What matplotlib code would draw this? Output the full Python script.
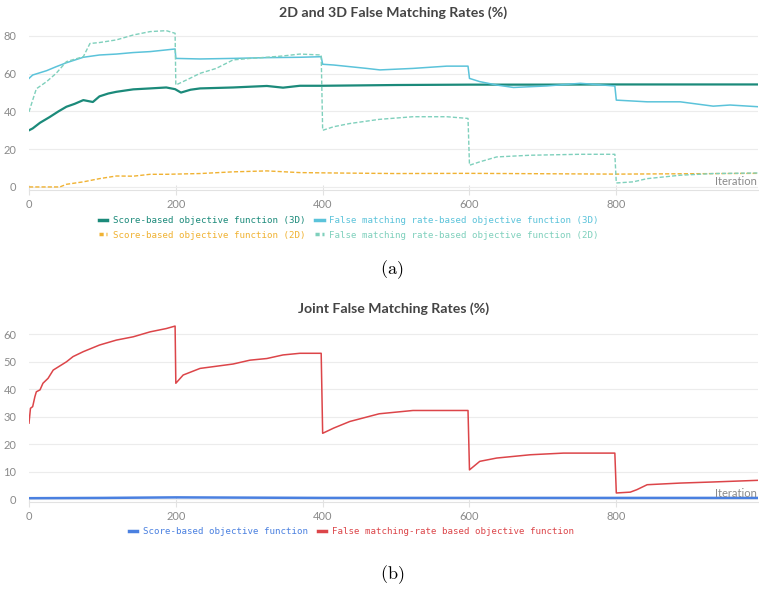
import matplotlib
matplotlib.use("Agg")
import matplotlib.pyplot as plt

plt.rcParams['font.family'] = ['Lato', 'DejaVu Sans']
plt.rcParams['mathtext.fontset'] = 'cm'

# ---- panel (a): 2D and 3D false matching rates ----
score3d_it = [0, 5, 15, 28, 40, 51, 62, 74, 87, 96, 108, 119, 142, 165, 187, 199, 207, 220, 233, 278, 324, 346, 369, 400, 500, 600, 700, 800, 900, 993]
score3d_val = [30, 31, 34, 37, 40, 42.5, 44, 46, 45, 48, 49.5, 50.4, 51.7, 52.2, 52.7, 51.8, 50, 51.5, 52.2, 52.7, 53.5, 52.6, 53.6, 53.6, 54, 54.2, 54.2, 54.3, 54.3, 54.3]

fmr3d_it = [0, 5, 24, 37, 51, 74, 96, 119, 142, 165, 187, 199, 200, 233, 278, 324, 369, 398, 400, 415, 460, 478, 523, 569, 598, 600, 614, 637, 660, 705, 751, 798, 800, 842, 887, 932, 955, 993]
fmr3d_val = [57.5, 59.3, 61.6, 63.7, 65.8, 68.7, 69.9, 70.4, 71.2, 71.7, 72.6, 73.1, 68.1, 67.8, 68.1, 68.5, 68.7, 69, 65, 64.6, 62.8, 62, 62.8, 64, 64, 57.5, 55.8, 54, 52.7, 53.5, 54.9, 53.5, 46, 45.1, 45.1, 42.8, 43.4, 42.5]

score2d_it = [0, 42, 51, 74, 96, 119, 142, 165, 187, 233, 278, 324, 369, 415, 500, 600, 700, 800, 900, 993]
score2d_val = [0, 0, 1.4, 2.7, 4.4, 5.8, 5.7, 6.7, 6.7, 7.1, 8, 8.5, 7.6, 7.4, 7.1, 7.2, 7, 6.8, 7, 7.2]

fmr2d_it = [0, 5, 10, 24, 37, 51, 74, 83, 96, 119, 142, 165, 187, 199, 200, 219, 233, 255, 278, 301, 324, 346, 369, 398, 400, 415, 437, 477, 523, 569, 598, 600, 614, 637, 683, 751, 798, 800, 823, 842, 887, 932, 993]
fmr2d_val = [39.8, 46, 52, 55.8, 60.2, 66.4, 69, 76, 76.5, 77.9, 80.5, 82.3, 82.8, 81.4, 54, 57.5, 60.2, 62.8, 67.3, 68.1, 68.7, 69.4, 70.4, 69.9, 30, 31.9, 33.6, 35.8, 37.2, 37.2, 36.3, 11.5, 13.3, 15.9, 16.8, 17.3, 17.3, 2.1, 2.7, 4.4, 6.2, 7.1, 7.4]

# ---- panel (b): joint false matching rates ----
joint_score_it = [0, 100, 200, 300, 400, 500, 600, 700, 800, 900, 993]
joint_score_val = [0.3, 0.4, 0.6, 0.5, 0.4, 0.4, 0.4, 0.4, 0.4, 0.4, 0.4]

joint_fmr_it = [0, 2, 5, 8, 10, 15, 19, 26, 33, 51, 60, 74, 96, 119, 142, 165, 187, 199, 200, 210, 233, 278, 301, 324, 346, 369, 398, 400, 415, 437, 477, 523, 598, 600, 614, 637, 683, 728, 798, 800, 819, 828, 842, 887, 932, 993]
joint_fmr_val = [27.6, 33, 33.6, 37.2, 39, 39.7, 42.1, 43.9, 46.9, 49.9, 51.8, 53.6, 56, 57.8, 59, 60.8, 62, 62.9, 42.1, 45.1, 47.5, 49.1, 50.5, 51.1, 52.4, 53, 53, 23.9, 25.8, 28.2, 31, 32.2, 32.2, 10.6, 13.7, 14.9, 16.1, 16.7, 16.7, 2.2, 2.5, 3.4, 5.2, 5.8, 6.2, 6.8]

x_ticks = [0, 200, 400, 600, 800]

C_SCORE3D = '#1b8a7a'
C_FMR3D = '#5bc3da'
C_SCORE2D = '#f0b232'
C_FMR2D = '#7fd0bc'
C_BLUE = '#4a80e0'
C_RED = '#dc4549'
GRID = '#ececec'
TICK = '#8a8a8a'

fig = plt.figure(figsize=(7.59, 5.89), dpi=100)
ax1 = fig.add_axes([29 / 759, 0.6778, 729 / 759, 0.274])
ax2 = fig.add_axes([29 / 759, 0.1481, 729 / 759, 0.3011])


def style(ax, title, yticks):
    ax.set_xlim(0, 993)
    ax.set_xticks(x_ticks)
    ax.set_yticks(yticks)
    ax.grid(axis='y', color=GRID, lw=0.8)
    ax.set_axisbelow(True)
    for s in ['top', 'right', 'left']:
        ax.spines[s].set_visible(False)
    ax.spines['bottom'].set_color('#e2e2e2')
    ax.tick_params(axis='y', length=0, pad=9, labelsize=8, labelcolor=TICK)
    ax.tick_params(axis='x', length=7, direction='inout', color='#e2e2e2',
                   pad=3, labelsize=8, labelcolor=TICK)
    ax.set_title(title, fontsize=10.2, fontweight='bold', color='#444444', pad=8)
    ax.annotate('Iteration', xy=(1, 0), xycoords='axes fraction',
                xytext=(-1, 2), textcoords='offset points',
                ha='right', va='bottom', fontsize=8, color='#8a8a8a')


ax1.plot(score3d_it, score3d_val, color=C_SCORE3D, lw=1.6,
         label='Score-based objective function (3D)')
ax1.plot(score2d_it, score2d_val, color=C_SCORE2D, lw=1, ls=(0, (3, 1.5)),
         label='Score-based objective function (2D)')
ax1.plot(fmr3d_it, fmr3d_val, color=C_FMR3D, lw=1.1,
         label='False matching rate-based objective function (3D)')
ax1.plot(fmr2d_it, fmr2d_val, color=C_FMR2D, lw=1, ls=(0, (3, 1.5)),
         label='False matching rate-based objective function (2D)')
ax1.set_ylim(-1.5, 84)
style(ax1, '2D and 3D False Matching Rates (%)', [0, 20, 40, 60, 80])

ax2.plot(joint_score_it, joint_score_val, color=C_BLUE, lw=1.8,
         label='Score-based objective function')
ax2.plot(joint_fmr_it, joint_fmr_val, color=C_RED, lw=1.1,
         label='False matching-rate based objective function')
ax2.set_ylim(-1, 63.5)
style(ax2, 'Joint False Matching Rates (%)', [0, 10, 20, 30, 40, 50, 60])

leg_kw = dict(frameon=False, prop={'family': 'DejaVu Sans Mono', 'size': 6.6},
              labelcolor='linecolor', handlelength=0.9, handletextpad=0.6,
              borderpad=0, borderaxespad=0, columnspacing=1.1, labelspacing=0.6)
legs = []
h, l = ax1.get_legend_handles_labels()
legs.append(fig.legend(h, l, ncol=2, loc='upper left',
                       bbox_to_anchor=(99 / 759, 1 - 216 / 589), **leg_kw))
h, l = ax2.get_legend_handles_labels()
legs.append(fig.legend(h, l, ncol=2, loc='upper left',
                       bbox_to_anchor=(129 / 759, 1 - 527 / 589), **leg_kw))
for leg in legs:
    for hd in leg.legend_handles:
        hd.set_linewidth(2.5)
        if hd.get_linestyle() != '-':
            hd.set_linestyle((0, (1.2, 0.8)))

fig.text(392 / 759, 1 - 270 / 589, r'$\mathrm{(a)}$', fontsize=13, ha='center', va='center')
fig.text(392 / 759, 1 - 575 / 589, r'$\mathrm{(b)}$', fontsize=13, ha='center', va='center')

fig.savefig('out.png', dpi=100)
